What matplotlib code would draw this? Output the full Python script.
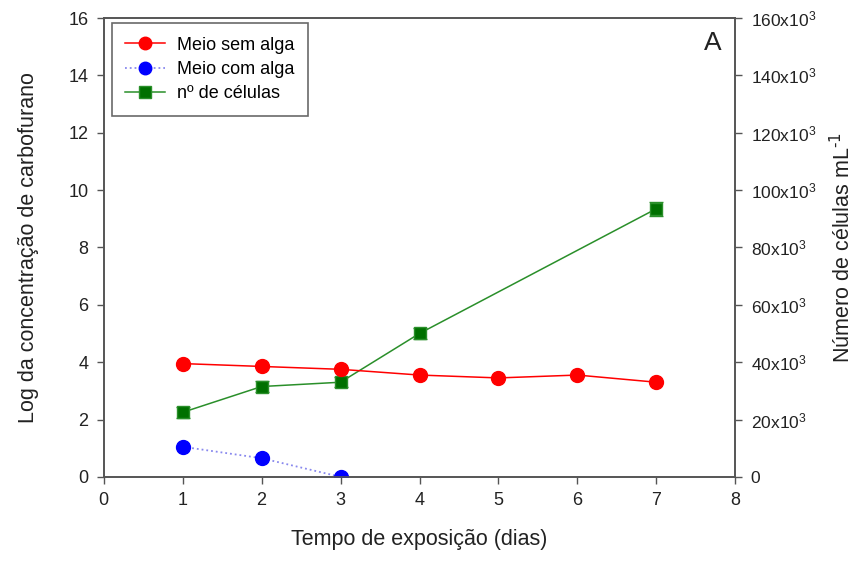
import matplotlib
matplotlib.use("Agg")
import matplotlib.pyplot as plt
from matplotlib.ticker import FuncFormatter
from matplotlib.lines import Line2D

plt.rcParams['font.family'] = ['Liberation Sans', 'DejaVu Sans']
plt.rcParams['mathtext.default'] = 'regular'

days_sem = [1, 2, 3, 4, 5, 6, 7]
log_sem = [3.95, 3.85, 3.75, 3.55, 3.45, 3.55, 3.3]
days_com = [1, 2, 3]
log_com = [1.05, 0.65, 0.0]
days_cel = [1, 2, 3, 4, 7]
cells = [22500, 31500, 33000, 50000, 93500]
cells_err = [2000, 1800, 1800, 1800, 2500]

fig = plt.figure(figsize=(8.57, 5.63), dpi=100)
ax = fig.add_axes([0.121, 0.153, 0.737, 0.815])
ax2 = ax.twinx()

spine_col = '#555555'
green_line = '#2a8f2a'
l1, = ax.plot(days_sem, log_sem, '-o', color='red', lw=1.1, ms=10, label='Meio sem alga')
l2, = ax.plot(days_com, log_com, ':o', color='#8888ee', lw=1.3, ms=10,
              mfc='blue', mec='blue', label='Meio com alga')
ax2.errorbar(days_cel, cells, yerr=cells_err, fmt='-s', color=green_line, lw=1.1, ms=9,
             mfc='#007000', mec=green_line, capsize=5, ecolor=green_line, elinewidth=1)
l3 = Line2D([], [], ls='-', marker='s', color=green_line, lw=1.1, ms=9,
            mfc='#007000', mec=green_line, label='nº de células')
ax.set_zorder(ax2.get_zorder() + 1)
ax.patch.set_visible(False)

ax.set_xlim(0, 8)
ax.set_ylim(0, 16)
ax2.set_ylim(0, 160000)
ax.set_xticks(range(0, 9))
ax.set_yticks(range(0, 17, 2))
ax2.set_yticks(range(0, 160001, 20000))
ax2.yaxis.set_major_formatter(FuncFormatter(
    lambda v, p: '0' if v == 0 else '%dx10$^{3}$' % int(round(v / 1000))))

for a in (ax, ax2):
    for s in a.spines.values():
        s.set_color(spine_col)
        s.set_linewidth(1.2)
    a.tick_params(direction='out', length=5, width=1, color=spine_col,
                  labelsize=13, labelcolor='#222222', pad=6)
ax2.tick_params(labelsize=12.5)

ax.set_xlabel('Tempo de exposição (dias)', fontsize=15.5, labelpad=14, color='#222222')
ax.set_ylabel('Log da concentração de carbofurano', fontsize=15.5, labelpad=21, color='#222222')
ax2.set_ylabel('Número de células mL$^{\\text{-1}}$', fontsize=15.5, labelpad=10,
               color='#222222')

leg = ax.legend(handles=[l1, l2, l3], loc='upper left', bbox_to_anchor=(0.0127, 0.989),
                borderaxespad=0, fontsize=13, frameon=True, fancybox=False,
                edgecolor='#444444', borderpad=0.75, handlelength=2.2, handletextpad=0.65,
                labelspacing=0.4, markerscale=0.9)
leg.get_frame().set_linewidth(1.2)

ax.text(0.965, 0.946, 'A', transform=ax.transAxes, fontsize=19, ha='center', va='center',
        color='#222222')

fig.savefig('out.png', dpi=100)
